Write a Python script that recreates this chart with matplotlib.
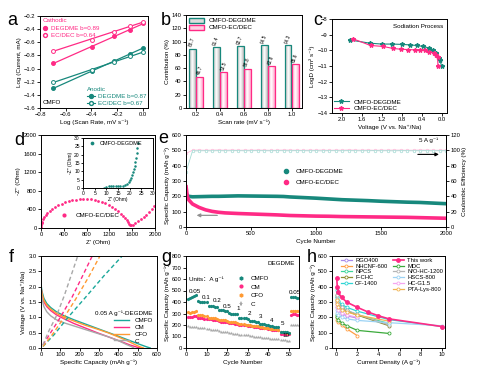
import numpy as np
import matplotlib
matplotlib.use("Agg")
import matplotlib.pyplot as plt
from matplotlib.lines import Line2D
from matplotlib.patches import Patch
from matplotlib.colors import LinearSegmentedColormap

plt.rcParams['font.family'] = ['Liberation Sans', 'DejaVu Sans', 'Noto Sans CJK SC']
plt.rcParams['font.size'] = 4.5
plt.rcParams['axes.linewidth'] = 0.7
plt.rcParams['xtick.major.size'] = 2
plt.rcParams['ytick.major.size'] = 2
plt.rcParams['xtick.major.width'] = 0.6
plt.rcParams['ytick.major.width'] = 0.6
plt.rcParams['xtick.major.pad'] = 1.2
plt.rcParams['ytick.major.pad'] = 1.2
plt.rcParams['axes.labelpad'] = 1.5

PINK = '#FF2A85'
TEAL = '#17887C'
ORANGE = '#FF9A33'
GRAY = '#A8A8A8'
TICK = 4.2
TXT = 4.5

# ---- (a) log i vs log v ----
scan_rate = [0.2, 0.4, 0.6, 0.8, 1.0]
cath_degdme = [-0.92, -0.67, -0.51, -0.41, -0.31]
cath_ecdec = [-0.73, -0.56, -0.44, -0.35, -0.29]
anod_degdme = [-1.30, -1.04, -0.89, -0.78, -0.68]
anod_ecdec = [-1.21, -1.02, -0.90, -0.81, -0.75]

# ---- (b) capacitive contribution ----
rate_labels = ['0.2', '0.4', '0.6', '0.8', '1.0']
contrib_degdme = [88.7, 91.4, 92.7, 94.5, 94.3]
contrib_ecdec = [46.7, 53.5, 58.8, 62.8, 65.6]

# ---- (c) GITT diffusion coefficient ----
volt_degdme = [1.84, 1.45, 1.21, 1.00, 0.81, 0.65, 0.51, 0.38, 0.27, 0.18, 0.12, 0.07, 0.04, 0.01]
logd_degdme = [-9.34, -9.54, -9.60, -9.60, -9.62, -9.65, -9.69, -9.75, -9.84, -10.0, -10.2, -10.5, -10.6, -11.0]
volt_ecdec = [1.79, 1.43, 1.18, 0.98, 0.82, 0.68, 0.55, 0.45, 0.35, 0.26, 0.17, 0.12, 0.09, 0.08]
logd_ecdec = [-9.25, -9.69, -9.75, -9.88, -9.93, -9.95, -9.97, -9.97, -10.0, -10.1, -10.15, -10.3, -10.4, -11.0]

# ---- (d) Nyquist ----
zre_ecdec = [2, 5, 10, 20, 35, 55, 80, 110, 150, 195, 245, 300, 360, 420, 485, 550, 615, 680,
             745, 810, 875, 940, 1005, 1070, 1130, 1190, 1250, 1305, 1355, 1400, 1440, 1475,
             1505, 1530, 1550, 1565, 1580, 1610, 1650, 1700, 1750, 1800, 1850, 1900, 1950, 1990]
zim_ecdec = [20, 70, 99, 139, 184, 229, 274, 317, 366, 410, 451, 489, 523, 550, 574, 592, 606, 615,
             619, 619, 613, 600, 585, 560, 530, 500, 455, 410, 360, 310, 260, 210,
             165, 120, 85, 62, 55, 70, 100, 140, 185, 235, 290, 350, 410, 470]
zre_degdme = [9.0, 10.0, 11.0, 12.0, 13.0, 14.0, 15.0, 16.0, 17.0, 18.0, 18.8, 19.5, 20.1, 20.6,
              21.0, 21.4, 21.8, 22.1, 22.4, 22.7, 23.0, 23.3, 23.6]
zim_degdme = [0.2, 0.8, 1.1, 1.2, 1.2, 1.2, 1.2, 1.3, 1.5, 2.0, 2.7, 3.6, 4.8, 6.2,
              7.7, 9.4, 11.3, 13.3, 15.6, 18.2, 21.0, 24.0, 27.3]

# ---- (e) long cycling at 5 A/g ----
e_cycles = [1, 10, 20, 50, 100, 150, 200, 250, 300, 400, 500, 600, 700, 750, 800, 900, 1000,
            1100, 1200, 1300, 1400, 1500, 1600, 1700, 1800, 1900, 2000]
cap_degdme = [220, 205, 200, 197, 198, 199, 200, 200, 201, 203, 202, 201, 200, 199, 196, 192, 188,
              183, 178, 175, 172, 168, 165, 162, 160, 156, 152]
cap_ecdec = [262, 200, 178, 150, 128, 112, 102, 96, 92, 88, 85, 82, 79, 77, 75, 73, 71,
             70, 68, 67, 66, 65, 64, 63, 61, 59, 57]
ce_cycles = [1, 50, 100, 150, 200, 250, 300, 350, 400, 450, 500, 550, 600, 650, 700, 750, 800,
             850, 900, 950, 1000, 1050, 1100, 1150, 1200, 1250, 1300, 1350, 1400, 1450, 1500,
             1550, 1600, 1650, 1700, 1750, 1800, 1850, 1900, 1950, 2000]
ce_degdme = [72, 99.2, 99.4, 99.5, 99.3, 99.6, 99.4, 99.5, 99.6, 99.4, 99.5, 99.6, 99.5, 99.4,
             99.6, 99.5, 99.4, 99.6, 99.5, 99.4, 99.5, 99.3, 99.6, 99.5, 99.4, 99.6, 99.5, 99.4,
             99.5, 99.6, 99.4, 99.5, 99.3, 99.6, 99.5, 99.4, 99.5, 99.6, 99.4, 99.5, 99.5]
ce_ecdec = [96, 100.2, 100.4, 100.1, 100.3, 100.5, 100.2, 100.4, 100.1, 100.3, 100.2, 100.4,
            100.3, 100.1, 100.2, 100.4, 100.3, 100.2, 100.1, 100.3, 100.2, 100.4, 100.1, 100.3,
            100.2, 100.5, 100.3, 100.2, 100.4, 100.1, 100.3, 100.2, 100.4, 100.3, 100.1, 100.2,
            100.4, 100.3, 100.2, 100.1, 100.3]

# ---- (f) GCD profiles at 0.05 A/g ----
dis_cap_cmfo = [0, 5, 15, 30, 50, 80, 120, 170, 230, 290, 350, 410, 460, 510, 545, 565]
dis_v_cmfo = [2.08, 1.85, 1.62, 1.45, 1.32, 1.18, 1.05, 0.92, 0.78, 0.64, 0.50, 0.36, 0.24, 0.12, 0.04, 0.0]
dis_cap_cm = [0, 5, 15, 30, 50, 80, 120, 170, 230, 290, 350, 410, 460, 500, 515]
dis_v_cm = [2.00, 1.75, 1.50, 1.35, 1.22, 1.08, 0.95, 0.80, 0.65, 0.50, 0.36, 0.22, 0.10, 0.02, 0.0]
dis_cap_cfo = [0, 5, 15, 30, 50, 80, 120, 170, 230, 290, 350, 400, 445, 490, 515, 530]
dis_v_cfo = [2.00, 1.78, 1.55, 1.40, 1.27, 1.13, 1.00, 0.88, 0.74, 0.62, 0.49, 0.36, 0.24, 0.10, 0.03, 0.0]
dis_cap_c = [0, 5, 15, 30, 50, 80, 120, 170, 230, 290, 350, 400, 440, 470, 480]
dis_v_c = [1.95, 1.60, 1.35, 1.18, 1.05, 0.92, 0.82, 0.72, 0.60, 0.48, 0.36, 0.24, 0.12, 0.04, 0.0]
chg_cap_cmfo = [10, 70, 140, 230, 325, 420]
chg_v_cmfo = [0.05, 0.45, 1.00, 1.65, 2.35, 3.00]
chg_cap_cm = [10, 50, 100, 160, 215, 265]
chg_v_cm = [0.10, 0.50, 1.00, 1.65, 2.35, 3.00]
chg_cap_cfo = [10, 60, 120, 180, 245, 305]
chg_v_cfo = [0.05, 0.45, 1.00, 1.60, 2.30, 3.00]
chg_cap_c = [10, 40, 80, 120, 155, 190]
chg_v_c = [0.10, 0.55, 1.05, 1.70, 2.35, 3.00]

# ---- (g) rate performance ----
g_cycles = list(range(1, 56))
rate_cmfo = [425, 432, 440, 450, 460, 405, 402, 400, 398, 396, 366, 364, 362, 360, 358,
             332, 330, 328, 326, 324, 302, 300, 298, 296, 294, 265, 262, 260, 258, 256,
             236, 234, 232, 230, 228, 210, 208, 206, 204, 202, 190, 188, 186, 184, 182,
             142, 140, 138, 136, 134, 445, 443, 440, 436, 432]
rate_cfo = [310, 305, 312, 315, 318, 288, 285, 283, 282, 280, 262, 260, 258, 257, 255,
            245, 243, 241, 240, 238, 228, 226, 224, 222, 220, 210, 208, 206, 204, 202,
            196, 194, 192, 190, 188, 182, 180, 178, 176, 174, 168, 166, 164, 162, 160,
            138, 136, 135, 134, 133, 318, 322, 324, 322, 320]
rate_cm = [268, 270, 272, 274, 276, 262, 260, 258, 256, 255, 250, 248, 246, 244, 242,
           232, 230, 228, 226, 224, 218, 216, 214, 212, 210, 202, 200, 198, 196, 194,
           190, 188, 186, 184, 182, 176, 174, 172, 170, 168, 162, 160, 158, 156, 154,
           126, 125, 124, 123, 122, 290, 292, 292, 290, 288]
rate_c = [188, 186, 185, 184, 183, 174, 172, 171, 170, 169, 162, 160, 158, 157, 156,
          145, 143, 141, 140, 138, 130, 128, 126, 125, 124, 116, 114, 112, 111, 110,
          104, 102, 100, 99, 98, 93, 91, 90, 89, 88, 82, 80, 79, 78, 77,
          68, 67, 66, 65, 64, 200, 202, 203, 203, 202]
rate_steps = ['0.05', '0.1', '0.2', '0.5', '1', '2', '3', '4', '5', '10', '0.05']

# ---- (h) comparison with literature ----
h_rates = [0.05, 0.1, 0.2, 0.5, 1, 2, 3, 4, 5, 10]
this_work = [455, 400, 362, 330, 299, 265, 235, 210, 190, 140]
refs = {
    'RGO400': ([0.05, 0.1, 0.2, 0.5, 1, 2], [300, 265, 245, 225, 210, 195], '#A98BEA'),
    'NHCNF-600': ([0.05, 0.1, 0.2, 0.5, 1, 2], [200, 185, 170, 150, 125, 80], '#FF9E44'),
    'NPCS': ([0.1, 0.2, 0.5, 1, 2, 5], [335, 305, 270, 245, 215, 160], '#3DD69A'),
    'F-CHC': ([0.05, 0.1, 0.2, 0.5, 1, 2, 5], [345, 310, 285, 260, 240, 215, 145], '#8C8C2C'),
    'CF-1400': ([0.03, 0.1, 0.2, 0.5, 1, 2, 5, 10], [380, 330, 305, 285, 265, 240, 185, 140], '#2FD6D6'),
    'MDC': ([0.05, 0.1, 0.2, 0.5, 1, 2, 5], [215, 200, 185, 165, 145, 115, 95], '#3BAA3B'),
    'N/O-HC-1200': ([0.03, 0.05, 0.1, 0.2, 0.5, 1, 2, 5], [345, 320, 300, 285, 265, 245, 220, 150], '#B5B5B5'),
    'HSCS-800': ([0.05, 0.1, 0.2, 0.5, 1, 2, 5, 10], [250, 230, 215, 200, 190, 180, 165, 145], '#9CD3F5'),
    'HC-G1.5': ([0.05, 0.1, 0.2, 0.5, 1, 2], [290, 270, 250, 230, 215, 200], '#F5A6F0'),
    'PTA-Lys-800': ([0.05, 0.1, 0.2, 0.5, 1, 2, 5], [310, 290, 270, 250, 235, 215, 175], '#F2B450'),
}
left_refs = ['RGO400', 'NHCNF-600', 'NPCS', 'F-CHC', 'CF-1400']
right_refs = ['MDC', 'N/O-HC-1200', 'HSCS-800', 'HC-G1.5', 'PTA-Lys-800']

W, H = 500, 370
fig = plt.figure(figsize=(W / 100, H / 100), dpi=100)


def px_axes(left, top, right, bottom):
    """Axes from a pixel box (origin at the top-left of the figure)."""
    return fig.add_axes([left / W, 1 - bottom / H, (right - left) / W, (bottom - top) / H])


def style(ax):
    ax.tick_params(direction='out', labelsize=TICK)


def letter(x, y, s):
    # y is the baseline, in pixels from the top
    fig.text(x / W, 1 - y / H, s, fontsize=13, ha='center', va='baseline')


def gradient_bars(ax, bars, edge_col):
    # shaded fill: coloured at the sides, white in the middle
    cmap = LinearSegmentedColormap.from_list('g', [edge_col, 'white', edge_col])
    grad = np.linspace(0, 1, 64).reshape(1, -1)
    for rect in bars:
        x0, w, h = rect.get_x(), rect.get_width(), rect.get_height()
        im = ax.imshow(grad, extent=[x0, x0 + w, 0, h], aspect='auto', cmap=cmap,
                       origin='lower', zorder=rect.get_zorder() - 0.1)
        im.set_clip_path(rect)


# (a)
ax = px_axes(40, 16, 148, 108)
style(ax)
lx = np.log10(scan_rate)
for ys, col, filled in [(cath_degdme, PINK, True), (cath_ecdec, PINK, False),
                        (anod_degdme, TEAL, True), (anod_ecdec, TEAL, False)]:
    k, b0 = np.polyfit(lx, ys, 1)
    ax.plot(lx, k * lx + b0, color=col, lw=0.9)
    ax.plot(lx, ys, 'o', ms=2.8, color=col, mfc=col if filled else 'white', mew=0.7)
ax.set_xlim(-0.8, 0.04)
ax.set_ylim(-1.6, -0.2)
ax.set_xticks([-0.8, -0.6, -0.4, -0.2, 0.0])
ax.set_yticks(np.arange(-1.6, -0.19, 0.2))
ax.set_xlabel('Log (Scan Rate, mV s⁻¹)')
ax.set_ylabel('Log (Current, mA)')
h1 = [Line2D([], [], marker='o', ls='none', color=PINK, ms=2.8),
      Line2D([], [], marker='o', ls='none', color=PINK, mfc='white', ms=2.8)]
leg = ax.legend(h1, ['DEGDME b=0.89', 'EC/DEC b=0.64'], loc='upper left', frameon=False,
                title='Cathodic', fontsize=TXT, title_fontsize=TXT, handlelength=0.8, handletextpad=0.6,
                labelspacing=0.3, borderaxespad=0.2, borderpad=0.2, alignment='left', labelcolor=PINK)
leg.get_title().set_color(PINK)
ax.add_artist(leg)
h2 = [Line2D([], [], marker='o', color=TEAL, ms=2.8, lw=0.8),
      Line2D([], [], marker='o', color=TEAL, mfc='white', ms=2.8, lw=0.8)]
leg = ax.legend(h2, ['DEGDME b=0.87', 'EC/DEC b=0.67'], loc='lower right', frameon=False,
                title='Anodic', fontsize=TXT, title_fontsize=TXT, handlelength=1.2, handletextpad=0.5,
                labelspacing=0.3, borderaxespad=0.1, borderpad=0.2, alignment='left', labelcolor=TEAL)
leg.get_title().set_color(TEAL)
ax.text(0.02, 0.04, 'CMFO', transform=ax.transAxes, fontsize=TXT)
letter(12.5, 25, 'a')

# (b)
ax = px_axes(186, 15, 302, 108)
style(ax)
xb = np.arange(len(rate_labels))
bars1 = ax.bar(xb - 0.15, contrib_degdme, 0.28, color='none', edgecolor=TEAL, lw=0.9, zorder=3)
bars2 = ax.bar(xb + 0.15, contrib_ecdec, 0.28, color='none', edgecolor=PINK, lw=0.9, zorder=3)
gradient_bars(ax, bars1, '#B8B8B8')
gradient_bars(ax, bars2, '#FFA6CB')
for rect, v in list(zip(bars1, contrib_degdme)) + list(zip(bars2, contrib_ecdec)):
    ax.text(rect.get_x() + rect.get_width() / 2, v + 2, f'{v}', rotation=70,
            ha='center', va='bottom', fontsize=3.4)
ax.set_xticks(xb)
ax.set_xticklabels(rate_labels)
ax.set_xlim(-0.42, 4.43)
ax.set_ylim(0, 140)
ax.set_yticks(range(0, 141, 20))
ax.set_xlabel('Scan rate (mV s⁻¹)')
ax.set_ylabel('Contribution (%)')
ax.legend([Patch(facecolor='#DDDDDD', edgecolor=TEAL), Patch(facecolor='#FFD0E3', edgecolor=PINK)],
          ['CMFO-DEGDME', 'CMFO-EC/DEC'], loc='upper left', frameon=False, fontsize=TXT,
          handlelength=2.4, handleheight=0.9, labelspacing=0.2, borderaxespad=0.2, borderpad=0.2)
letter(166, 25, 'b')

# (c)
ax = px_axes(332, 19, 447, 113)
style(ax)
ax.plot(volt_degdme, logd_degdme, '-*', color=TEAL, ms=3.2, lw=0.8, label='CMFO-DEGDME')
ax.plot(volt_ecdec, logd_ecdec, '-*', color=PINK, ms=3.2, lw=0.8, label='CMFO-EC/DEC')
ax.set_xlim(2.2, -0.1)
ax.set_ylim(-14, -8)
ax.set_xticks([2.0, 1.6, 1.2, 0.8, 0.4, 0.0])
ax.set_yticks(range(-14, -7))
ax.set_xlabel('Voltage (V vs. Na⁺/Na)')
ax.set_ylabel('LogD (cm² s⁻¹)')
ax.text(0.97, 0.95, 'Sodiation Process', transform=ax.transAxes, ha='right', va='top', fontsize=TXT)
ax.legend(loc='lower left', frameon=False, fontsize=TXT, handlelength=2.4, labelspacing=0.2,
          borderaxespad=0.1, borderpad=0.2)
letter(317.5, 25, 'c')

# (d)
ax = px_axes(41, 135, 155, 228)
style(ax)
ax.plot(zre_ecdec, zim_ecdec, 'o', color=PINK, ms=2, mew=0, label='CMFO-EC/DEC')
ax.set_xlim(0, 2000)
ax.set_ylim(0, 2000)
ax.set_xticks(range(0, 2001, 400))
ax.set_yticks(range(0, 2001, 400))
ax.set_xlabel("Z' (Ohm)")
ax.set_ylabel("-Z'' (Ohm)")
ax.legend(loc='lower left', bbox_to_anchor=(0.1, 0.05), frameon=False, fontsize=TXT,
          handletextpad=0.8, markerscale=1.5)
ins = px_axes(83, 138, 153, 188)
ins.tick_params(direction='out', labelsize=3.6, length=1.5, pad=0.8)
ins.plot(zre_degdme, zim_degdme, 'o', color=TEAL, ms=1.8, mew=0, label='CMFO-DEGDME')
ins.set_xlim(0, 30)
ins.set_ylim(0, 30)
ins.set_xticks(range(0, 31, 5))
ins.set_yticks(range(0, 31, 5))
ins.set_xlabel("Z' (Ohm)", fontsize=3.6, labelpad=0.5)
ins.set_ylabel("-Z'' (Ohm)", fontsize=3.6, labelpad=0.5)
ins.legend(loc='upper left', frameon=False, fontsize=4, handletextpad=0.5,
           borderaxespad=0.2, markerscale=1.5)
letter(19, 145, 'd')

# (e)
ax = px_axes(186, 135, 446, 227)
style(ax)
ax2 = ax.twinx()
ax2.tick_params(direction='out', labelsize=TICK)
ax2.plot(ce_cycles, ce_ecdec, '-o', color='#FFB6D8', ms=1.8, mfc='white', mew=0.5, lw=0.6)
ax2.plot(ce_cycles, ce_degdme, '-o', color='#A6DCD5', ms=1.8, mfc='white', mew=0.5, lw=0.6)
ax2.set_ylim(0, 120)
ax2.set_yticks(range(0, 121, 20))
ax2.set_ylabel('Coulombic Efficiency (%)')
ax.plot(e_cycles, cap_degdme, '-', color=TEAL, lw=2.6, label='CMFO-DEGDME')
ax.plot(e_cycles, cap_ecdec, '-', color=PINK, lw=2.6, label='CMFO-EC/DEC')
ax.set_zorder(ax2.get_zorder() + 1)
ax.patch.set_visible(False)
ax.set_xlim(0, 2000)
ax.set_ylim(0, 600)
ax.set_xticks(range(0, 2001, 500))
ax.set_yticks(range(0, 601, 100))
ax.set_xlabel('Cycle Number')
ax.set_ylabel('Specific Capacity (mAh g⁻¹)')
ax.yaxis.label.set_y(0.45)
hd = [Line2D([], [], marker='o', ls='none', color=TEAL, ms=3),
      Line2D([], [], marker='o', ls='none', color=PINK, ms=3)]
ax.legend(hd, ['CMFO-DEGDME', 'CMFO-EC/DEC'], loc='center left', bbox_to_anchor=(0.34, 0.545),
          frameon=False, fontsize=TXT, handletextpad=0.5, labelspacing=0.9)
ax.annotate('', xy=(60, 76), xytext=(262, 76),
            arrowprops=dict(arrowstyle='-|>', color='#909090', lw=0.9, mutation_scale=5))
ax2.annotate('', xy=(1967, 94.7), xytext=(1762, 94.7),
             arrowprops=dict(arrowstyle='-|>', color='black', lw=0.8, mutation_scale=5))
ax2.text(1864, 113, '5 A g⁻¹', ha='center', va='center', fontsize=TXT)
letter(163, 143, 'e')

# (f)
ax = px_axes(41, 256, 157, 348)
style(ax)
for cap, v, col, lab in [(dis_cap_cmfo, dis_v_cmfo, '#1BA89A', 'CMFO'), (dis_cap_cm, dis_v_cm, PINK, 'CM'),
                         (dis_cap_cfo, dis_v_cfo, ORANGE, 'CFO'), (dis_cap_c, dis_v_c, GRAY, 'C')]:
    ax.plot(cap, v, '-', color=col, lw=1, label=lab)
for cap, v, col in [(chg_cap_cmfo, chg_v_cmfo, '#1BA89A'), (chg_cap_cm, chg_v_cm, PINK),
                    (chg_cap_cfo, chg_v_cfo, ORANGE), (chg_cap_c, chg_v_c, GRAY)]:
    ax.plot(cap, v, '--', color=col, lw=1, dashes=(3, 2))
ax.set_xlim(0, 600)
ax.set_ylim(0, 3.0)
ax.set_xticks(range(0, 601, 100))
ax.set_yticks(np.arange(0, 3.01, 0.5))
ax.set_xlabel('Specific Capacity (mAh g⁻¹)')
ax.set_ylabel('Voltage (V vs. Na⁺/Na)')
ax.legend(loc='lower right', frameon=False, fontsize=TXT, title='0.05 A g⁻¹-DEGDME', title_fontsize=TXT,
          alignment='right', handlelength=2.4, labelspacing=0.25, borderaxespad=0.5, borderpad=0.2)
letter(11.5, 262, 'f')

# (g)
ax = px_axes(186, 256, 299, 348)
style(ax)
pc, = ax.plot(g_cycles, rate_c, '*', color=GRAY, ms=2.8, mew=0)
pm, = ax.plot(g_cycles, rate_cm, 'o', color=PINK, ms=2.3, mew=0)
pf, = ax.plot(g_cycles, rate_cfo, 'h', color=ORANGE, ms=2.5, mew=0)
pt, = ax.plot(g_cycles, rate_cmfo, 'h', color=TEAL, ms=2.5, mew=0)
ax.set_xlim(0, 55)
ax.set_ylim(0, 800)
ax.set_xticks(range(0, 51, 10))
ax.set_yticks(range(0, 801, 100))
ax.set_xlabel('Cycle Number')
ax.set_ylabel('Specific Capacity (mAh g⁻¹)')
ax.legend([pt, pm, pf, pc], ['CMFO', 'CM', 'CFO', 'C'], loc='upper left', bbox_to_anchor=(0.38, 0.85),
          frameon=False, fontsize=TXT, handletextpad=0.6, labelspacing=0.55, markerscale=1.3)
step_pos = [(4.5, 495), (10, 437), (15.3, 414), (20, 365), (25.3, 342), (31, 304), (36.5, 275),
            (41.7, 240), (47, 212), (48.5, 110), (53, 480)]
for (tx, ty), s in zip(step_pos, rate_steps):
    ax.text(tx, ty, s, ha='center', va='center', fontsize=TXT)
ax.text(1.5, 600, 'Units：A g⁻¹', ha='left', va='center', fontsize=TXT)
ax.text(0.96, 0.95, 'DEGDME', transform=ax.transAxes, ha='right', va='top', fontsize=TXT)
letter(166, 262, 'g')

# (h)
ax = px_axes(332, 256, 445, 348)
style(ax)
lh = {}
for name, (xs, ys, col) in refs.items():
    lh[name], = ax.plot(xs, ys, '-o', color=col, lw=0.9, ms=2.2, mfc='white', mew=0.6)
tw, = ax.plot(h_rates, this_work, '-o', color=PINK, lw=1.2, ms=2.8, mfc=PINK, mew=0.6)
ax.set_xlim(-0.4, 10.3)
ax.set_ylim(0, 600)
ax.set_xticks(range(0, 11, 2))
ax.set_yticks(range(0, 601, 100))
ax.set_xlabel('Current Density (A g⁻¹)')
ax.set_ylabel('Specific Capacity (mAh g⁻¹)')
leg = ax.legend([lh[n] for n in left_refs], left_refs, loc='upper left', frameon=False, fontsize=4.2,
                handlelength=2.0, handletextpad=0.5, labelspacing=0.12, borderaxespad=0.1, borderpad=0.2,
                bbox_to_anchor=(0.06, 1.0))
ax.add_artist(leg)
ax.legend([tw] + [lh[n] for n in right_refs], ['This work'] + right_refs, loc='upper left',
          bbox_to_anchor=(0.52, 1.0), frameon=False, fontsize=4.2, handlelength=2.0, handletextpad=0.5,
          labelspacing=0.12, borderaxespad=0.1, borderpad=0.2)
letter(312, 262, 'h')

fig.savefig('out.png', dpi=100)
